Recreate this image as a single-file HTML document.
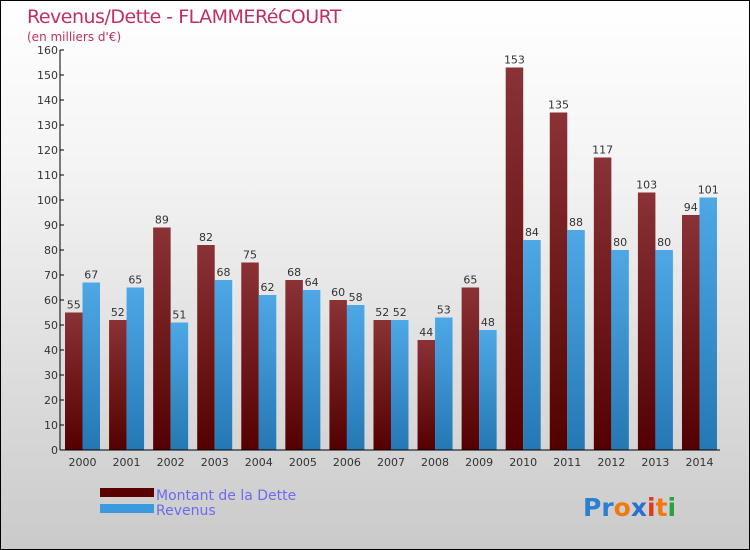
<!DOCTYPE html>
<html><head><meta charset="utf-8"><style>
html,body{margin:0;padding:0}
body{width:750px;height:550px;overflow:hidden;font-family:"DejaVu Sans","Liberation Sans",sans-serif}
#wrap{position:relative;width:748px;height:548px;border:1px solid #000;background:linear-gradient(#fff,#f4f4f4 30%,#cacaca)}
</style></head><body>
<div id="wrap">
<svg id="chart" width="748" height="548" style="position:absolute;left:0;top:0">
<defs>
<linearGradient id="gd" x1="0" y1="0" x2="0" y2="1"><stop offset="0" stop-color="#8a3236"/><stop offset="1" stop-color="#540000"/></linearGradient>
<linearGradient id="gr" x1="0" y1="0" x2="0" y2="1"><stop offset="0" stop-color="#4ea8e6"/><stop offset="1" stop-color="#2478b4"/></linearGradient>
</defs>
<text x="26" y="22" font-size="19" fill="#c0305f" style="letter-spacing:-0.5px">Revenus/Dette - FLAMMERéCOURT</text>
<text x="26" y="40" font-size="12" fill="#c0305f">(en milliers d'€)</text>
<g id="bars"></g>
<g id="axes"></g>
<rect x="99" y="487" width="54" height="9" fill="#5a0000"/>
<rect x="99" y="503" width="54" height="9" fill="#3a9ae0"/>
<text x="155" y="499" font-size="14" fill="#6b6bf0">Montant de la Dette</text>
<text x="155" y="514" font-size="14" fill="#6b6bf0">Revenus</text>
<text x="582" y="515" font-size="25" font-weight="bold"><tspan fill="#2a7fd0">Pr</tspan><tspan fill="#f07a10">o</tspan><tspan fill="#2a6fd0">x</tspan><tspan fill="#e03a1a">i</tspan><tspan fill="#f07a10">t</tspan><tspan fill="#2aa040">i</tspan></text>
</svg>
</div>
<script>
const years=["2000","2001","2002","2003","2004","2005","2006","2007","2008","2009","2010","2011","2012","2013","2014"];
const dette=[55,52,89,82,75,68,60,52,44,65,153,135,117,103,94];
const revenus=[67,65,51,68,62,64,58,52,53,48,84,88,80,80,101];
const yTicks=[0,10,20,30,40,50,60,70,80,90,100,110,120,130,140,150,160];
const NS="http://www.w3.org/2000/svg";
const x0=59,y0=449,step=44.07,bw=17.5;
function y(v){return y0-v*2.5;}
function gx(i){return x0+5+i*step;}
function mk(t,a,p){const e=document.createElementNS(NS,t);for(const k in a)e.setAttribute(k,a[k]);p.appendChild(e);return e;}
const bars=document.getElementById('bars'),axes=document.getElementById('axes');
years.forEach((yr,i)=>{
 const xd=gx(i),xr=xd+bw;
 let r=mk('rect',{x:xd,y:y(dette[i]),width:bw,height:y0-y(dette[i]),fill:'url(#gd)'},bars);
 
 
 r=mk('rect',{x:xr,y:y(revenus[i]),width:bw,height:y0-y(revenus[i]),fill:'url(#gr)'},bars);
 
 
 let t=mk('text',{x:xd+bw/2,y:y(dette[i])-4,'font-size':11,'text-anchor':'middle',fill:'#333'},bars);t.textContent=dette[i];
 
 
 t=mk('text',{x:xr+bw/2,y:y(revenus[i])-4,'font-size':11,'text-anchor':'middle',fill:'#333'},bars);t.textContent=revenus[i];
 
 
 t=mk('text',{x:xd+bw,y:y0+16,'font-size':11,'text-anchor':'middle',fill:'#333'},axes);t.textContent=yr;
 
 
});
let l=mk('line',{x1:x0,y1:y(160),x2:x0,y2:y0,stroke:'#000'},axes);


l=mk('line',{x1:x0,y1:y0,x2:719,y2:y0,stroke:'#000'},axes);


yTicks.forEach(v=>{
 mk('line',{x1:x0,y1:y(v),x2:x0+4,y2:y(v),stroke:'#000'},axes);
 const t=mk('text',{x:x0-2,y:y(v)+4,'font-size':11,'text-anchor':'end',fill:'#333'},axes);t.textContent=v;
 
 
});
</script>
</body></html>
